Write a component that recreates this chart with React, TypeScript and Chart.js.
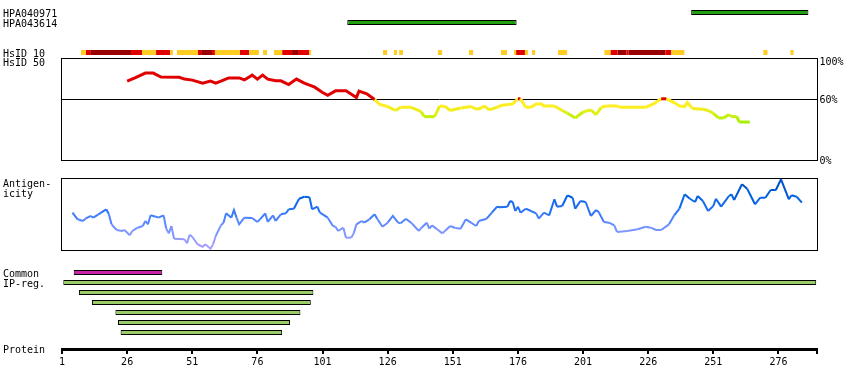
import React, { useEffect, useRef } from 'react';
import { Chart, registerables } from 'chart.js';

Chart.register(...registerables);

// ---------------- data ----------------
const axisTicks = [1, 26, 51, 76, 101, 126, 151, 176, 201, 226, 251, 276];
const axisEnd = 290.8;

const antibodyNames = ['HPA040971', 'HPA043614'];
const antibodyRanges: [number, number][] = [[243, 287], [111, 175]];

// HsID 10 blocks (residue edges)
const hsid10Low: [number, number][] = [
  [8.3, 10.2], [31.7, 37.1], [42.5, 43.6], [45.1, 53.2], [59.7, 69.3], [72.8, 76.6], [78.2, 79.7],
  [82.4, 85.5], [95.8, 96.6], [124.2, 125.8], [128.4, 129.6], [130.4, 131.9], [145.3, 146.9],
  [157.2, 158.8], [169.5, 171.8], [174.5, 175.3], [178.7, 179.9], [181.4, 182.6], [191.4, 194.9],
  [209.2, 211.5], [234.9, 239.9], [270.2, 271.8], [280.6, 281.8],
];
const hsid10Mid: [number, number][] = [
  [10.2, 12.1], [27.5, 31.7], [37.1, 42.5], [53.2, 54.4], [58.6, 59.7], [69.3, 72.8], [85.5, 89.3],
  [91.6, 95.8], [175.3, 178.7], [211.5, 214.2], [217.6, 218.4], [232.6, 234.9],
];
const hsid10High: [number, number][] = [
  [12.1, 27.5], [54.4, 58.6], [89.3, 91.6], [214.2, 217.6], [218.4, 232.6],
];

// HsID 50 identity (%)
const hsid50Residues = [26, 29, 33, 36, 39, 46, 48, 51, 55, 58, 60, 62, 65, 69, 71, 74, 76, 78, 80, 83,
  85, 88, 91, 94, 98, 101, 103, 106, 110, 114, 115, 118, 121, 123, 126, 129, 131, 135, 139, 140,
  144, 146, 148, 150, 154, 158, 160, 162, 163, 165, 168, 170, 174, 176, 177, 179, 181, 183, 185, 186,
  190, 193, 195, 198, 201, 204, 206, 208, 210, 214, 215, 225, 228, 231, 233, 236, 238, 240, 241, 243,
  247, 249, 251, 253, 255, 257, 258, 260, 261, 265];
const hsid50Values = [77.8, 81, 85.7, 85.7, 81.8, 81.5, 79.8, 78.8, 75.9, 77.8, 75.9, 77.8, 81, 81, 79, 83.7, 79.8, 83.7, 79.8, 78.1,
  78.1, 74.5, 79.8, 75.9, 71.9, 66.7, 64, 68.3, 68.3, 61.8, 68, 65.3, 59.8, 54.9, 52.9, 49, 52.2, 52.2, 47.6, 43,
  43, 53.5, 53, 49, 51.5, 52.9, 50.2, 51.5, 53.5, 49.6, 52.2, 54.2, 55.5, 60.5, 60.5, 52.2, 52.2, 55.5, 55.5, 53.5,
  53.5, 49, 46.3, 41.7, 47.6, 49.6, 45, 52.2, 53.5, 53.5, 52.2, 52.2, 55.5, 60.5, 60.5, 56.8, 53.5, 52.9, 56.8, 50.9,
  50.2, 49, 46.3, 41.7, 41.7, 45, 43, 43, 37.7, 37.7];

// Antigenicity (relative score 0-100)
const antigenResidues = [5, 7, 9, 10, 12, 13, 15, 16, 18, 19, 20, 22, 24, 25, 27, 28, 30, 32, 33, 34,
  35, 37, 38, 40, 41, 42, 43, 44, 48, 49, 50, 51, 53, 55, 56, 58, 59, 60, 62, 63,
  64, 66, 67, 68, 69, 71, 74, 76, 77, 79, 80, 82, 83, 85, 87, 88, 90, 92, 94, 96,
  97, 99, 100, 103, 105, 106, 107, 109, 110, 112, 113, 114, 116, 117, 119, 121, 122, 124, 126, 128,
  130, 131, 133, 135, 138, 139, 141, 142, 143, 145, 147, 148, 150, 152, 154, 156, 158, 160, 161, 164,
  166, 168, 169, 172, 173, 174, 175, 176, 177, 179, 181, 183, 184, 186, 188, 190, 191, 193, 195, 197,
  198, 200, 202, 204, 206, 207, 209, 211, 213, 214, 218, 222, 225, 227, 229, 231, 234, 236, 238, 240,
  242, 244, 245, 247, 249, 251, 252, 254, 257, 258, 259, 262, 264, 267, 269, 271, 273, 275, 277, 280,
  281, 283, 285];
const antigenValues = [52.2, 42.9, 40.6, 43.8, 47.6, 45.2, 49.9, 52.2, 56.9, 49.9, 35.9, 28, 26.6, 28, 20.6, 26.6, 31.2, 33.6, 40.6, 35.9,
  48.5, 46.6, 45.2, 48.5, 30, 23.3, 33.6, 15.8, 15, 9.4, 21.4, 18.6, 8, 4.6, 8, 1.8, 8, 19.6, 34.5, 38.2,
  51.3, 45.2, 55.9, 45.2, 35.9, 45.2, 44.8, 39.2, 42.9, 51.3, 39.2, 48.5, 40.6, 49.9, 51.3, 56.9, 57.8, 71.7, 74.5, 73.7,
  56.9, 60.6, 52.2, 45.2, 33.6, 32.6, 26.6, 31.2, 17.2, 17.2, 23.3, 35.9, 40.6, 38.2, 42.9, 49.9, 43.8, 32.6, 38.2, 47.6,
  38.2, 37.3, 43.8, 38.2, 26.6, 31.2, 38.2, 29.8, 34.5, 29, 23.3, 26.6, 33.6, 30.8, 29.8, 42.9, 38.2, 33.6, 40.6, 43.8,
  52.2, 60.6, 59.7, 60.6, 68.5, 67.1, 54.5, 60.6, 52.2, 57.8, 54.5, 51.3, 43.8, 52.2, 48.5, 70.9, 60.6, 61.5, 76.5, 73.1,
  57.8, 68.5, 67.1, 47.6, 55.9, 53.1, 39.2, 38.2, 34.5, 25.2, 26.6, 29, 32.6, 31.2, 28, 28, 35.9, 48.5, 57.8, 77.9,
  71.7, 67.1, 75.5, 68.5, 54.5, 61.5, 71.7, 60.6, 75.5, 77.9, 69.9, 91.9, 85.7, 63.9, 73.1, 73.1, 83.9, 83.9, 98.9, 70.9,
  76.5, 74.5, 66.2];

const commonRanges: [number, number][] = [[6, 39]];
const ipRegionRanges: [number, number][] = [[2, 290], [8, 97], [13, 96], [22, 92], [23, 88], [24, 85]];

// ---------------- layout / style ----------------
const W = 850;
const H = 390;
const FONT = "'DejaVu Sans Mono', monospace";
const TRACK_ROW0 = 12.5;
const TRACK_STEP = 10;
const ROW_ANTIBODY = 0;
const ROW_HSID10 = 4;
const ROW_COMMON = 26;
const ROW_IP = 27;
const HSID_TOP = 58.5;
const HSID_BOTTOM = 160.5;
const AG_TOP = 178.5;
const AG_BOTTOM = 250;
const AXIS_Y = 349.5;

function fitRange(vTop: number, vBottom: number, pTop: number, pBottom: number) {
  const k = (vTop - vBottom) / (pBottom - pTop);
  return { min: vBottom - (H - pBottom) * k, max: vTop + pTop * k };
}

function identityColor(v: number) {
  if (v >= 60) return '#E00000';
  const t = Math.max(0, Math.min(1, (53 - v) / 15));
  const r = Math.round(255 - 90 * t);
  const g = Math.round(238 + 2 * t);
  const b = Math.round(34 * (1 - t));
  return `rgb(${r},${g},${b})`;
}

const agStops: [number, number[]][] = [
  [0, [175, 160, 255]], [25, [130, 150, 255]], [40, [90, 135, 255]], [55, [40, 115, 245]], [75, [0, 95, 225]], [100, [0, 70, 180]],
];
function antigenColor(v: number) {
  for (let i = 0; i < agStops.length - 1; i++) {
    const [a, ca] = agStops[i];
    const [b, cb] = agStops[i + 1];
    if (v <= b || i === agStops.length - 2) {
      const t = Math.max(0, Math.min(1, (v - a) / (b - a)));
      const c = ca.map((x, j) => Math.round(x + (cb[j] - x) * t));
      return `rgb(${c[0]},${c[1]},${c[2]})`;
    }
  }
  return 'rgb(0,70,180)';
}

const rangeBars = (ranges: [number, number][], row: (i: number) => number, pad: number) =>
  ranges.map((r, i) => ({ x: [r[0] - pad, r[1] + pad], y: row(i) }));

const barBase = {
  type: 'bar' as const,
  indexAxis: 'y' as const,
  xAxisID: 'x',
  yAxisID: 'track',
  grouped: false,
  barThickness: 5,
  borderSkipped: false,
  inflateAmount: 0,
};

const decorations = {
  id: 'decorations',
  beforeDatasetsDraw(chart: any) {
    const { ctx, chartArea } = chart;
    const hs = chart.scales.hsid;
    const ag = chart.scales.antigen;
    const al = (p: number) => Math.floor(p) + 0.5;
    const L = chartArea.left - 0.5;
    const R = chartArea.right + 0.5;
    ctx.save();
    ctx.strokeStyle = '#000';
    ctx.lineWidth = 1;
    const hT = al(hs.getPixelForValue(100));
    const hB = al(hs.getPixelForValue(0));
    ctx.strokeRect(L, hT, R - L, hB - hT);
    const h60 = al(hs.getPixelForValue(60));
    ctx.beginPath();
    ctx.moveTo(L, h60);
    ctx.lineTo(R, h60);
    ctx.stroke();
    const aT = al(ag.getPixelForValue(100));
    const aB = al(ag.getPixelForValue(0));
    ctx.strokeRect(L, aT, R - L, aB - aT);
    ctx.restore();
  },
  afterDraw(chart: any) {
    const { ctx, chartArea } = chart;
    const tr = chart.scales.track;
    const hs = chart.scales.hsid;
    const ag = chart.scales.antigen;
    const fr = chart.scales.frame;
    ctx.save();
    ctx.fillStyle = '#000';
    ctx.font = `10px ${FONT}`;
    ctx.textBaseline = 'alphabetic';
    ctx.textAlign = 'left';
    const lx = 3;
    antibodyNames.forEach((n, i) => ctx.fillText(n, lx, tr.getPixelForValue(ROW_ANTIBODY + i) + 4));
    ctx.fillText('HsID 10', lx, tr.getPixelForValue(ROW_HSID10) + 4);
    ctx.fillText('HsID 50', lx, hs.getPixelForValue(100) + 7.5);
    ctx.fillText('Antigen-', lx, ag.getPixelForValue(100) + 8.5);
    ctx.fillText('icity', lx, ag.getPixelForValue(100) + 18);
    ctx.fillText('Common', lx, tr.getPixelForValue(ROW_COMMON) + 4.5);
    ctx.fillText('IP-reg.', lx, tr.getPixelForValue(ROW_IP) + 4.5);
    ctx.fillText('Protein', lx, fr.getPixelForValue(AXIS_Y) + 3.5);
    const rx = chartArea.right + 2.5;
    ctx.fillText('100%', rx, hs.getPixelForValue(100) + 6.5);
    ctx.fillText('60%', rx, hs.getPixelForValue(60) + 4);
    ctx.fillText('0%', rx, hs.getPixelForValue(0) + 3);
    ctx.restore();
  },
};

export default function App() {
  const ref = useRef<HTMLCanvasElement | null>(null);
  useEffect(() => {
    if (!ref.current) return;
    const trackMin = -TRACK_ROW0 / TRACK_STEP;
    const hsidRange = fitRange(100, 0, HSID_TOP, HSID_BOTTOM);
    const agRange = fitRange(100, 0, AG_TOP, AG_BOTTOM);
    const hidden = { display: false, offset: false, grid: { offset: false } };
    const chart = new Chart(ref.current, {
      type: 'line',
      data: {
        datasets: [
          {
            ...barBase,
            label: 'Antibodies',
            data: rangeBars(antibodyRanges, (i) => ROW_ANTIBODY + i, 0.5),
            backgroundColor: '#20A010',
            borderColor: '#000',
            borderWidth: 1,
          },
          {
            ...barBase,
            label: 'HsID 10 low',
            data: rangeBars(hsid10Low, () => ROW_HSID10, 0),
            backgroundColor: '#FFCC22',
            borderWidth: 0,
          },
          {
            ...barBase,
            label: 'HsID 10 mid',
            data: rangeBars(hsid10Mid, () => ROW_HSID10, 0),
            backgroundColor: '#E00000',
            borderWidth: 0,
          },
          {
            ...barBase,
            label: 'HsID 10 high',
            data: rangeBars(hsid10High, () => ROW_HSID10, 0),
            backgroundColor: '#990000',
            borderWidth: 0,
          },
          {
            ...barBase,
            label: 'Common',
            data: rangeBars(commonRanges, () => ROW_COMMON, 0.5),
            backgroundColor: '#CC22AA',
            borderColor: '#000',
            borderWidth: 1,
          },
          {
            ...barBase,
            label: 'IP-reg.',
            data: rangeBars(ipRegionRanges, (i) => ROW_IP + i, 0.5),
            backgroundColor: '#99CC66',
            borderColor: '#000',
            borderWidth: 1,
          },
          {
            type: 'line',
            label: 'HsID 50',
            xAxisID: 'x',
            yAxisID: 'hsid',
            data: hsid50Residues.map((r, i) => ({ x: r, y: hsid50Values[i] })),
            borderColor: '#E00000',
            borderWidth: 3,
            pointRadius: 0,
            tension: 0,
            segment: {
              borderColor: (c: any) => identityColor((c.p0.parsed.y + c.p1.parsed.y) / 2),
            },
          } as any,
          {
            type: 'line',
            label: 'Antigenicity',
            xAxisID: 'x',
            yAxisID: 'antigen',
            data: antigenResidues.map((r, i) => ({ x: r, y: antigenValues[i] })),
            borderColor: '#3070F0',
            borderWidth: 2,
            pointRadius: 0,
            tension: 0,
            segment: {
              borderColor: (c: any) => antigenColor((c.p0.parsed.y + c.p1.parsed.y) / 2),
            },
          } as any,
        ] as any,
      },
      options: {
        animation: false,
        responsive: true,
        maintainAspectRatio: false,
        devicePixelRatio: 1,
        layout: { padding: { left: 62, right: W - 817, top: 0, bottom: 0 } },
        plugins: { legend: { display: false }, tooltip: { enabled: false } },
        events: [],
        scales: {
          x: {
            type: 'linear',
            axis: 'x',
            min: 1,
            max: axisEnd,
            offset: false,
            position: { frame: AXIS_Y } as any,
            afterBuildTicks: (s: any) => {
              s.ticks = [...axisTicks, axisEnd].map((v) => ({ value: v }));
            },
            ticks: {
              autoSkip: false,
              maxRotation: 0,
              padding: 4,
              color: '#000',
              font: { family: FONT, size: 10 },
              callback: (v: any) => (axisTicks.includes(Number(v)) ? String(v) : ''),
            },
            grid: { display: true, offset: false, drawOnChartArea: false, drawTicks: true, tickLength: 3, lineWidth: 2, color: '#000' },
            border: { display: true, width: 3, color: '#000' },
          },
          frame: { type: 'linear', axis: 'y', ...hidden, min: 0, max: H, reverse: true },
          track: { type: 'linear', axis: 'y', ...hidden, min: trackMin, max: trackMin + H / TRACK_STEP, reverse: true },
          hsid: { type: 'linear', axis: 'y', ...hidden, min: hsidRange.min, max: hsidRange.max },
          antigen: { type: 'linear', axis: 'y', ...hidden, min: agRange.min, max: agRange.max },
        } as any,
      },
      plugins: [decorations],
    });
    return () => chart.destroy();
  }, []);
  return (
    <div style={{ position: 'absolute', left: 0, top: 0, width: W, height: H, background: '#fff' }}>
      <canvas ref={ref} />
    </div>
  );
}
